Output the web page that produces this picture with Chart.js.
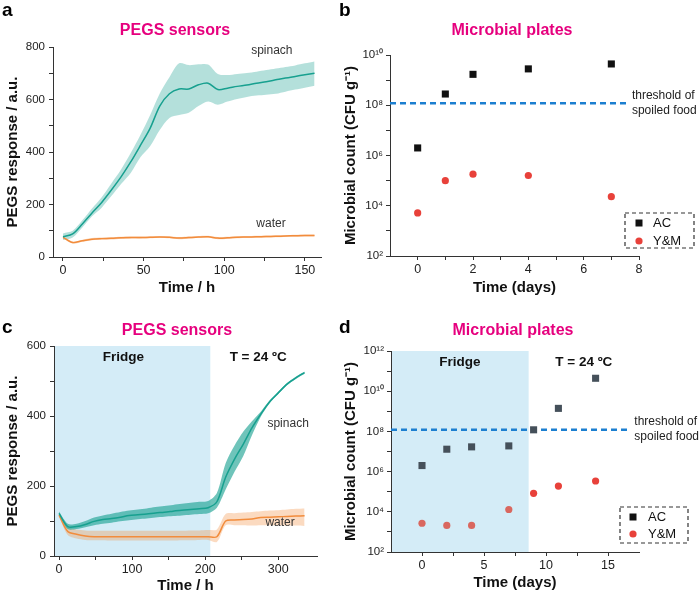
<!DOCTYPE html>
<html lang="en">
<head>
<meta charset="utf-8" />
<script src="https://cdn.jsdelivr.net/npm/chart.js@4.4.0/dist/chart.umd.min.js"></script>
<title>PEGS sensors vs microbial plates</title>
<style>
  body { margin: 0; background: #fff; }
  #wrap { position: relative; width: 700px; height: 595px; overflow: hidden; }
  #wrap canvas { position: absolute; }
</style>
</head>
<body>
<div id="wrap">
  <canvas id="pa" width="350" height="297" style="left:0;top:0"></canvas>
  <canvas id="pb" width="362" height="297" style="left:338px;top:0"></canvas>
  <canvas id="pc" width="350" height="298" style="left:0;top:297px"></canvas>
  <canvas id="pd" width="362" height="298" style="left:338px;top:297px"></canvas>
</div>
<script>
// ---- panel a: PEGS response at room temperature ----
const timeA = [0, 6, 12, 18, 24, 30, 36, 42, 48, 54, 60, 66, 72, 78, 84, 90, 96, 102, 108, 114, 120, 126, 132, 138, 144, 150, 156];
const spinachA   = [77, 88, 126, 168, 208, 255, 305, 362, 425, 490, 575, 622, 640, 640, 656, 662, 638, 643, 650, 655, 662, 668, 675, 682, 688, 694, 700];
const spinachAHi = [90, 100, 140, 185, 228, 280, 333, 396, 465, 540, 623, 685, 738, 731, 734, 733, 697, 693, 697, 701, 706, 712, 718, 724, 730, 738, 745];
const spinachALo = [65, 74, 112, 155, 188, 232, 278, 320, 380, 422, 484, 530, 541, 550, 575, 592, 580, 592, 602, 610, 615, 618, 622, 630, 638, 645, 652];
const waterA   = [75, 55, 62, 68, 70, 71, 73, 74, 74, 75, 76, 75, 72, 74, 76, 77, 72, 73, 75, 76, 77, 78, 79, 80, 81, 82, 82];
const waterAHi = [79, 59, 66, 72, 74, 75, 77, 78, 78, 79, 80, 79, 76, 78, 80, 81, 76, 77, 79, 80, 81, 82, 83, 84, 85, 86, 86];
const waterALo = [71, 51, 58, 64, 66, 67, 69, 70, 70, 71, 72, 71, 68, 70, 72, 73, 68, 69, 71, 72, 73, 74, 75, 76, 77, 78, 78];
const xMajorA = [0, 50, 100, 150], xMinorA = [25, 75, 125];
const yMajorA = [0, 200, 400, 600, 800], yMinorA = [100, 300, 500, 700];

// ---- panel b: microbial plates ----
const daysB = [0, 1, 2, 4, 7];
const acB = [2.0e6, 2.8e8, 1.7e9, 2.8e9, 4.4e9];
const ymB = [5.2e3, 1.0e5, 1.8e5, 1.6e5, 2.3e4];
const xMajorB = [0, 2, 4, 6, 8], xMinorB = [1, 3, 5, 7];
const yExpB = [2, 3, 4, 5, 6, 7, 8, 9, 10];

// ---- panel c: fridge then 24 C ----
const timeC = [0, 12, 24, 36, 48, 60, 72, 84, 96, 108, 120, 132, 144, 156, 168, 180, 192, 204, 216, 228, 240, 252, 264, 276, 288, 300, 312, 324, 336];
const spinachC   = [122, 84, 84, 90, 99, 104, 107, 111, 116, 118, 120, 123, 125, 128, 131, 133, 135, 138, 155, 225, 276, 319, 366, 405, 440, 466, 491, 509, 524];
const spinachCHi = [127, 92, 92, 100, 110, 116, 121, 126, 130, 133, 136, 140, 143, 146, 149, 152, 155, 157, 180, 265, 315, 355, 385, 412, 444, 469, 494, 512, 527];
const spinachCLo = [115, 77, 77, 82, 88, 92, 95, 99, 102, 105, 107, 110, 112, 114, 116, 118, 120, 122, 138, 190, 240, 285, 345, 398, 436, 463, 488, 506, 521];
const waterC   = [117, 70, 62, 57, 55, 55, 55, 55, 55, 55, 55, 55, 55, 55, 55, 55, 55, 55, 55, 100, 103, 104, 106, 110, 111, 112, 113, 114, 115];
const waterCHi = [121, 82, 76, 73, 72, 72, 72, 72, 72, 72, 72, 72, 72, 72, 72, 73, 73, 74, 76, 120, 122, 124, 126, 128, 130, 131, 133, 135, 136];
const waterCLo = [113, 60, 50, 46, 45, 45, 44, 44, 44, 44, 44, 44, 44, 44, 45, 45, 46, 46, 40, 88, 88, 88, 87, 88, 88, 88, 87, 87, 86];
const xMajorC = [0, 100, 200, 300], xMinorC = [50, 150, 250];
const yMajorC = [0, 200, 400, 600], yMinorC = [100, 300, 500];
const fridgeEndC = 207;

// ---- panel d: microbial plates, fridge then 24 C ----
const daysD = [0, 2, 4, 7, 9, 11, 14];
const acD = [2.0e6, 1.3e7, 1.7e7, 1.9e7, 1.2e8, 1.4e9, 4.4e10];
const ymD = [2.7e3, 2.1e3, 2.1e3, 1.3e4, 8.3e4, 1.9e5, 3.4e5];
const xMajorD = [0, 5, 10, 15], xMinorD = [2.5, 7.5, 12.5];
const yExpD = [2, 3, 4, 5, 6, 7, 8, 9, 10, 11, 12];
const fridgeEndD = 8.6;

const threshold = 1.2e8;       // spoiled food, CFU/g
const thrEndB = 7.6, thrEndD = 16.8;

// ---- styling ----
Chart.defaults.font.family = "'Liberation Sans', Arial, sans-serif";
const ink = '#333', pink = '#e6007e', teal = '#17a08f', orange = '#f28c3c';
const red = '#e8413a', redFridge = '#d9675f', blue = '#1c7fd0', shadeColor = '#d4ecf7';
const FONT = "'Liberation Sans', Arial, sans-serif";

const pts = (xs, ys) => xs.map((x, i) => ({ x: x, y: ys[i] }));
const sup = e => String(e).split('').map(d => '⁰¹²³⁴⁵⁶⁷⁸⁹'[+d]).join('');

function axisTitle(text) {
  return { display: true, text: text, color: '#111', font: { size: 15, weight: 'bold' }, padding: { top: 4, bottom: 0 } };
}
function linAxis(min, max, major, minor, title, fit, pad, size) {
  return {
    type: 'linear', min: min, max: max,
    afterBuildTicks: s => { s.ticks = major.concat(minor).sort((a, b) => a - b).map(v => ({ value: v })); },
    afterFit: fit,
    grid: { drawOnChartArea: false, tickLength: 4, tickColor: ink },
    border: { color: ink },
    ticks: { autoSkip: false, maxRotation: 0, padding: pad, color: '#222', font: { size: size },
             callback: v => major.includes(v) ? String(v) : '' },
    title: axisTitle(title)
  };
}
function logAxis(exps, title, fit) {
  return {
    type: 'logarithmic', min: 10 ** exps[0], max: 10 ** exps[exps.length - 1],
    afterBuildTicks: s => { s.ticks = exps.map(e => ({ value: 10 ** e })); },
    afterFit: fit,
    grid: { drawOnChartArea: false, tickLength: 4, tickColor: ink },
    border: { color: ink },
    ticks: { autoSkip: false, padding: 3, color: '#222', font: { size: 11.5 },
             callback: v => { const e = Math.round(Math.log10(v)); return e % 2 ? '' : '10' + sup(e); } },
    title: axisTitle(title)
  };
}
function label(ctx, s, x, y, font, color, align, base) {
  ctx.font = font + ' ' + FONT;
  ctx.fillStyle = color;
  ctx.textAlign = align || 'center';
  ctx.textBaseline = base || 'middle';
  ctx.fillText(s, x, y);
}
function shade(endX) {
  return { id: 'shade', beforeDraw(c) {
    const a = c.chartArea, ctx = c.ctx;
    ctx.save();
    ctx.fillStyle = shadeColor;
    ctx.fillRect(a.left, a.top, c.scales.x.getPixelForValue(endX) - a.left, a.bottom - a.top);
    ctx.restore();
  } };
}
function overlay(fn) {
  return { id: 'overlay', afterDraw(c) { c.ctx.save(); fn(c.ctx, c); c.ctx.restore(); } };
}
function legendBox(ctx, x0, y0, x1, y1, mx, y1m, y2m, tx, acColor) {
  ctx.setLineDash([4, 3]);
  ctx.strokeStyle = ink;
  ctx.lineWidth = 1.2;
  ctx.strokeRect(x0, y0, x1 - x0, y1 - y0);
  ctx.setLineDash([]);
  ctx.fillStyle = acColor;
  ctx.fillRect(mx - 3.5, y1m - 3.5, 7, 7);
  ctx.fillStyle = red;
  ctx.beginPath(); ctx.arc(mx, y2m, 3.6, 0, 2 * Math.PI); ctx.fill();
  label(ctx, 'AC', tx, y1m, '13px', '#111', 'left');
  label(ctx, 'Y&M', tx, y2m, '13px', '#111', 'left');
}
function thresholdText(ctx, c, endX) {
  const px = c.scales.x.getPixelForValue(endX) + 4, py = c.scales.y.getPixelForValue(threshold);
  label(ctx, 'threshold of', px, py - 8, '12px', '#222', 'left');
  label(ctx, 'spoiled food', px, py + 7, '12px', '#222', 'left');
}
function bandSets(t, hi, lo, fillColor) {
  return [
    { data: pts(t, hi), borderWidth: 0, pointRadius: 0, tension: 0.3, fill: '+1', backgroundColor: fillColor },
    { data: pts(t, lo), borderWidth: 0, pointRadius: 0, tension: 0.3, fill: false }
  ];
}
function lineSet(t, ys, color) {
  return { data: pts(t, ys), borderColor: color, borderWidth: 1.5, pointRadius: 0, tension: 0.3, fill: false };
}
const base = (pad) => ({
  responsive: false, animation: false, devicePixelRatio: 1,
  layout: { padding: pad },
  plugins: { legend: { display: false }, tooltip: { enabled: false } }
});

// ---- a ----
new Chart(document.getElementById('pa'), {
  type: 'line',
  data: { datasets: [
    lineSet(timeA, spinachA, teal),
    lineSet(timeA, waterA, orange),
    ...bandSets(timeA, spinachAHi, spinachALo, 'rgba(23,160,143,0.32)'),
    ...bandSets(timeA, waterAHi, waterALo, 'rgba(242,140,60,0.35)')
  ] },
  options: Object.assign(base({ top: 47, right: 29, bottom: 0, left: 0 }), {
    scales: {
      x: linAxis(-6.2, 160, xMajorA, xMinorA, 'Time / h', s => { s.height = 40; }, 2, 12.5),
      y: linAxis(0, 800, yMajorA, yMinorA, 'PEGS response / a.u.', s => { s.width = 53; }, 4, 11.5)
    }
  }),
  plugins: [overlay((ctx, c) => {
    const { x, y } = c.scales;
    label(ctx, 'a', 2, 16, 'bold 19px', '#000', 'left', 'alphabetic');
    label(ctx, 'PEGS sensors', 175, 35, 'bold 16px', pink, 'center', 'alphabetic');
    label(ctx, 'spinach', x.getPixelForValue(129.5), y.getPixelForValue(785), '12px', '#333');
    label(ctx, 'water', x.getPixelForValue(129), y.getPixelForValue(126), '12px', '#333');
  })]
});

// ---- b ----
new Chart(document.getElementById('pb'), {
  type: 'scatter',
  data: { datasets: [
    { data: pts(daysB, acB), pointStyle: 'rect', pointRadius: 5, backgroundColor: '#111', borderWidth: 0 },
    { data: pts(daysB, ymB), pointStyle: 'circle', pointRadius: 3.6, backgroundColor: red, borderWidth: 0 },
    { data: pts([-1, thrEndB], [threshold, threshold]), showLine: true, borderColor: blue, borderWidth: 2.5,
      borderDash: [6, 4], pointRadius: 0 }
  ] },
  options: Object.assign(base({ top: 55, right: 61, bottom: 0, left: 0 }), {
    scales: {
      x: linAxis(-1, 8, xMajorB, xMinorB, 'Time (days)', s => { s.height = 41; }, 2, 12.5),
      y: logAxis(yExpB, 'Microbial count (CFU g⁻¹)', s => { s.width = 52; })
    }
  }),
  plugins: [overlay((ctx, c) => {
    label(ctx, 'b', 1, 16, 'bold 19px', '#000', 'left', 'alphabetic');
    label(ctx, 'Microbial plates', 174, 35, 'bold 16px', pink, 'center', 'alphabetic');
    thresholdText(ctx, c, thrEndB);
    legendBox(ctx, 287, 213, 356, 248, 301, 223, 241, 315, '#111');
  })]
});

// ---- c ----
new Chart(document.getElementById('pc'), {
  type: 'line',
  data: { datasets: [
    lineSet(timeC, spinachC, teal),
    lineSet(timeC, waterC, orange),
    ...bandSets(timeC, spinachCHi, spinachCLo, 'rgba(23,160,143,0.62)'),
    ...bandSets(timeC, waterCHi, waterCLo, 'rgba(242,140,60,0.32)')
  ] },
  options: Object.assign(base({ top: 49, right: 33, bottom: 0, left: 0 }), {
    scales: {
      x: linAxis(-6.85, 353, xMajorC, xMinorC, 'Time / h', s => { s.height = 39; }, 2, 12.5),
      y: linAxis(0, 600, yMajorC, yMinorC, 'PEGS response / a.u.', s => { s.width = 54; }, 4, 11.5)
    }
  }),
  plugins: [shade(fridgeEndC), overlay((ctx, c) => {
    const { x, y } = c.scales, top = c.chartArea.top;
    label(ctx, 'c', 2, 36, 'bold 19px', '#000', 'left', 'alphabetic');
    label(ctx, 'PEGS sensors', 177, 38, 'bold 16px', pink, 'center', 'alphabetic');
    label(ctx, 'Fridge', x.getPixelForValue(88), top + 11, 'bold 13.5px', '#111');
    label(ctx, 'T = 24 ºC', x.getPixelForValue(272.5), top + 11, 'bold 13.5px', '#111');
    label(ctx, 'spinach', x.getPixelForValue(313.5), y.getPixelForValue(377), '12px', '#333');
    label(ctx, 'water', x.getPixelForValue(302.5), y.getPixelForValue(94), '12px', '#333');
  })]
});

// ---- d ----
new Chart(document.getElementById('pd'), {
  type: 'scatter',
  data: { datasets: [
    { data: pts(daysD, acD), pointStyle: 'rect', pointRadius: 5, backgroundColor: '#45505a', borderWidth: 0 },
    { data: pts(daysD, ymD), pointStyle: 'circle', pointRadius: 3.6, borderWidth: 0,
      backgroundColor: ctx => (ctx.raw && ctx.raw.x < fridgeEndD) ? redFridge : red },
    { data: pts([-2.5, thrEndD], [threshold, threshold]), showLine: true, borderColor: blue, borderWidth: 2.5,
      borderDash: [6, 4], pointRadius: 0 }
  ] },
  options: Object.assign(base({ top: 54, right: 61, bottom: 3, left: 0 }), {
    scales: {
      x: linAxis(-2.5, 17.5, xMajorD, xMinorD, 'Time (days)', s => { s.height = 40; }, 2, 12.5),
      y: logAxis(yExpD, 'Microbial count (CFU g⁻¹)', s => { s.width = 53; })
    }
  }),
  plugins: [shade(fridgeEndD), overlay((ctx, c) => {
    const x = c.scales.x, top = c.chartArea.top;
    label(ctx, 'd', 1, 36, 'bold 19px', '#000', 'left', 'alphabetic');
    label(ctx, 'Microbial plates', 175, 38, 'bold 16px', pink, 'center', 'alphabetic');
    label(ctx, 'Fridge', x.getPixelForValue(3.05), top + 11, 'bold 13.5px', '#111');
    label(ctx, 'T = 24 ºC', x.getPixelForValue(13.05), top + 11, 'bold 13.5px', '#111');
    thresholdText(ctx, c, thrEndD);
    legendBox(ctx, 282, 210, 350, 246, 295, 220, 237, 310, '#111');
  })]
});
</script>
</body>
</html>
